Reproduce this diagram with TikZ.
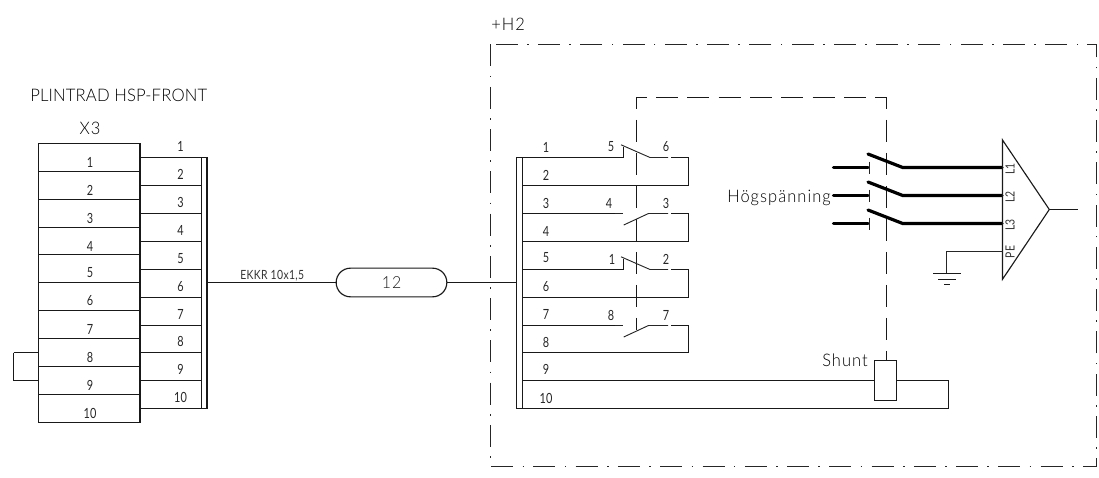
\documentclass[tikz,border=0pt]{standalone}
\usepackage{fontspec}
\setmainfont{Lato}[FakeStretch=0.78]
\newfontfamily\ttl{Lato Light}[FakeStretch=0.95,LetterSpace=6]
\newfontfamily\ttlb{Lato Light}[FakeStretch=0.96,LetterSpace=1]
\newfontfamily\tinylbl{Lato}[FakeStretch=0.82,LetterSpace=3]
\tikzset{
 wire/.style={line width=0.85pt,black!90},
 fine/.style={line width=0.7pt,black!85},
 thick wire/.style={line width=2.4pt,black,line cap=round},
 lbl/.style={inner sep=0pt,font=\fontsize{10.5}{11}\selectfont,text=black!85},
 big/.style={inner sep=0pt,font=\ttl\fontsize{13}{14}\selectfont,text=black},
 smalltxt/.style={inner sep=0pt,font=\tinylbl\fontsize{9.5}{10}\selectfont,text=black!80},
 ctrlh/.style={line width=0.75pt,black!90,dash pattern=on 16.5pt off 7pt,dash phase=8.5pt},
 ctrlv/.style={line width=0.75pt,black!90,dash pattern=on 16.5pt off 8.25pt,dash phase=7.9pt},
 frame/.style={line width=0.75pt,black!85,dash pattern=on 16.5pt off 7pt on 1.2pt off 7pt},
}
\begin{document}
\begin{tikzpicture}[x=0.75pt,y=-0.75pt]
\useasboundingbox (0,0) rectangle (1099,478);
% frame
\draw[frame] (490.5,44.5) rectangle (1096.5,466.5);
\node[big,anchor=west] (h2) at (491,24) {+H2};
% left block
\node[big,anchor=west,font=\ttlb\fontsize{13}{14}\selectfont] (title) at (30,95) {PLINTRAD HSP-FRONT};
\node[big] (x3) at (90,128) {X3};
\foreach \i/\yt/\yb in {1/143.5/171.5,2/171.5/199.5,3/199.5/227.5,4/227.5/254.5,5/254.5/282.5,6/282.5/310.5,7/310.5/338.5,8/338.5/366.5,9/366.5/394.5,10/394.5/422.5}{
  \draw[wire] (38.5,\yt) rectangle (140,\yb);
  \node[lbl] (Ln\i) at (90,\yt+18.5) {\i};
}
\foreach \i/\yt in {1/157.5,2/185.5,3/213.5,4/241.5,5/269.5,6/297.5,7/325.5,8/352.5,9/380.5,10/408.5}{
  \coordinate (A\i) at (140,\yt);
  \coordinate (B\i) at (201.5,\yt);
  \draw[wire] (A\i) -- (B\i);
  \node[lbl] (Rn\i) at (180.5,\yt-11) {\i};
}
\draw[wire] (201.5,157.5) rectangle (207,408.5);
\coordinate (busL) at (207,282.5);
\draw[wire] (13.5,352.5) -- (38.5,352.5);
\draw[wire] (13.5,380.5) -- (38.5,380.5);
\draw[wire] (13.5,352.5) -- (13.5,380.5);
% cable
\node[draw,wire,rounded corners=10.7pt,minimum width=83pt,minimum height=21.5pt,inner sep=0pt,font=\ttl\fontsize{12.5}{13}\selectfont] (cab) at (391.5,282.5) {12};
\node[smalltxt,anchor=west] (ek) at (240,275.5) {EKKR 10x1,5};
\coordinate (busR) at (516.5,282.5);
\draw[wire] (busL) -- (cab.west);
\draw[wire] (cab.east) -- (busR);
% right bar
\draw[wire] (516.5,157.5) rectangle (522.5,408.5);
\foreach \i/\yn in {1/147,2/175,3/203,4/231,5/258,6/287,7/314,8/342,9/369}{
  \node[lbl] (Mn\i) at (546,\yn) {\i};
}
\node[lbl] (Mn10) at (546,398) {10};
% mechanical link
\draw[ctrlh] (636,97.5) -- (886,97.5);
\draw[ctrlv] (636,97.5) -- (636,330);
\draw[ctrlv] (886,97.5) -- (886,360.5);
% contacts NC
\foreach \y/\yb/\a/\b/\lx in {157.5/185.5/5/6/611,269.5/297.5/1/2/612}{
  \draw[wire] (522.5,\y) -- (623.5,\y) -- (623.5,\y-11);
  \draw[fine] (621,\y-12.7) -- (650,\y) -- (668,\y);
  \draw[wire] (671,\y) -- (688.5,\y) -- (688.5,\yb) -- (522.5,\yb);
  \node[lbl] at (\lx,\y-10.5) {\a};
  \node[lbl] at (666,\y-10.5) {\b};
}
\foreach \y/\yb/\a/\b/\lx in {213.5/241.5/4/3/609,325.5/352.5/8/7/611}{
  \draw[wire] (522.5,\y) -- (615,\y);
  \draw[fine] (615,\y) -- (623,\y);
  \draw[fine] (623.7,\y+11.5) -- (648.5,\y) -- (668,\y);
  \draw[wire] (671,\y) -- (688.5,\y) -- (688.5,\yb) -- (522.5,\yb);
  \node[lbl] at (\lx,\y-10.5) {\a};
  \node[lbl] at (666,\y-10.5) {\b};
}
% HV
\foreach \y in {167.5,195.5,223.5}{
  \draw[thick wire] (833.5,\y) -- (868,\y);
  \draw[fine] (869,\y-6) -- (869,\y+6);
  \draw[thick wire] (868,\y-13.5) -- (902.7,\y) -- (1002,\y);
}
\node[big,anchor=east] (hv) at (831,198) {Högspänning};
\node[draw,wire,fill=white,minimum width=16.8pt,minimum height=29.4pt,inner sep=0pt] (sh) at (885.5,380.5) {};
\node[big,anchor=east] (shl) at (868,360) {Shunt};
\draw[wire] (522.5,380.5) -- (sh.west);
\draw[wire] (sh.east) -- (948.5,380.5) -- (948.5,408.5) -- (522.5,408.5);
% triangle
\draw[wire] (1002.5,140) -- (1049.3,209.5) -- (1002.5,279.3) -- cycle;
\draw[wire] (1049.3,209.5) -- (1078,209.5);
\foreach \t/\y in {L1/169,L2/197,L3/225,PE/252}{
  \node[smalltxt,rotate=90] at (1010,\y) {\t};
}
\draw[fine] (1002.5,251.5) -- (946.5,251.5) -- (946.5,273.5);
\draw[wire] (933.3,273.5) -- (960.7,273.5);
\draw[wire] (938.3,279.5) -- (955.7,279.5);
\draw[wire] (944,284.5) -- (950,284.5);
\end{tikzpicture}
\end{document}
